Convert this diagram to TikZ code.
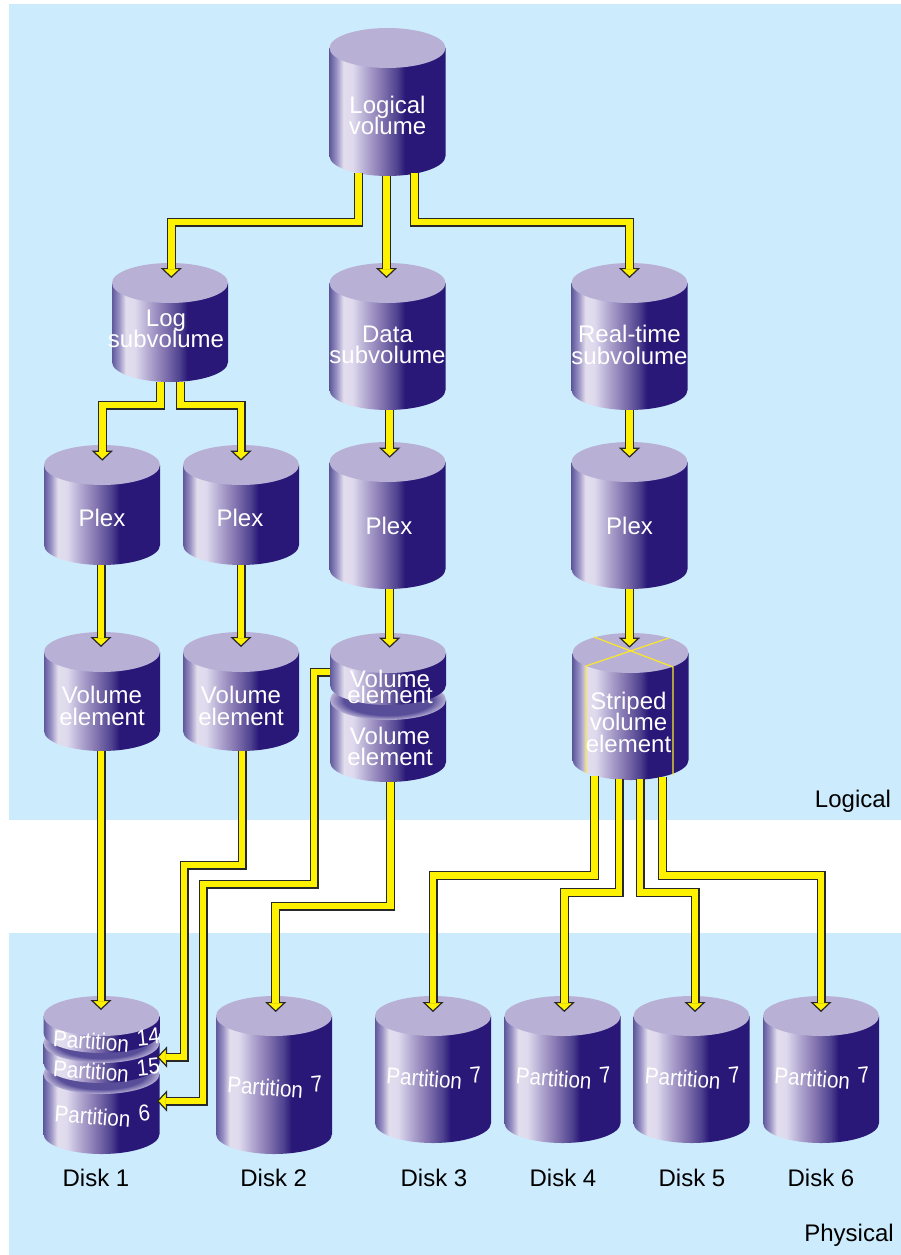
\documentclass[tikz,border=0pt]{standalone}
\usepackage{fontspec}
\setmainfont{Liberation Sans}
\usetikzlibrary{arrows.meta}

\definecolor{panelblue}{RGB}{204,235,253}
\definecolor{capcol}{RGB}{184,176,213}
\definecolor{groovecol}{RGB}{87,77,153}
\definecolor{pipeedge}{RGB}{40,40,40}
\definecolor{pipefill}{RGB}{255,242,0}
\definecolor{stripecol}{RGB}{250,232,40}

\pgfdeclarehorizontalshading{drumgrad}{100bp}{rgb(0bp)=(.37,.35,.61); rgb(25bp)=(.37,.35,.61); rgb(28bp)=(.6,.57,.77);
  rgb(31bp)=(.89,.87,.93); rgb(35bp)=(.87,.85,.93); rgb(41bp)=(.69,.65,.81); rgb(48bp)=(.5,.44,.68);
  rgb(54bp)=(.31,.26,.56); rgb(57.5bp)=(.165,.094,.47); rgb(100bp)=(.165,.094,.47)}
\pgfdeclareradialshading{groovegrad}{\pgfpointorigin}{color(0bp)=(groovecol); color(19bp)=(groovecol); color(25bp)=(capcol); color(50bp)=(capcol)}

% body and cap of a drum: x, top, bottom
\newcommand\drumbody[4][drumcap]{
  \path[drumface] (#2-58,#3+20) -- (#2-58,#4-20) arc (180:0:58 and 20) -- (#2+58,#3+20) -- cycle;
  \path[#1] (#2,#3+20) ellipse (58 and 20);
}
% node over the whole drum: name, x, top, bottom, text dx, text dy, text
\newcommand\drumnode[7]{
  \node[drumbox, minimum height = {#4-#3}] (#1) at (#2,{(#3+#4)/2})
    {\smash{\raisebox{\dimexpr-6.3pt-#6pt\relax}{\makebox[0pt]{\hspace*{\dimexpr2\dimexpr#5pt\relax\relax}\parbox[c]{300pt}{\lineskiplimit=-100pt\centering #7}}}}};
}
\newcommand\drum[7]{
  \drumbody{#2}{#3}{#4}
  \drumnode{#1}{#2}{#3}{#4}{#5}{#6}{#7}
}
\newcommand\slab[2]{{\fontsize{23}{23}\selectfont\rotatebox{-4.5}{\scalebox{.9}[1]{#1}}~\rotatebox{6}{\scalebox{.9}[1]{#2}}}}

\begin{document}
\begin{tikzpicture}[x = 1pt, y = -1pt,
    drumface/.style = { shade, shading = drumgrad },
    drumcap/.style = { fill = capcol },
    grooverim/.style = { shade, shading = groovegrad },
    drumbox/.style = { minimum width = 116, inner sep = 0, outer sep = 0, text = white, font = \fontsize{24}{21.5}\selectfont },
    caption/.style = { inner sep = 0, font = \fontsize{24}{24}\selectfont },
    pipe/.style = { draw = pipeedge, line width = 9pt, -{Triangle[length = 10pt, width = 21pt, line width = 1.2pt, fill = pipefill]},
      postaction = { draw = pipefill, line width = 6.6pt, -, shorten > = 9pt } },
    stripe/.style = { draw = stripecol, line width = 1.2pt }]

    \useasboundingbox (0,0) rectangle (901,1255);
    \fill[panelblue] (9,4) rectangle (901,820);
    \fill[panelblue] (9,933) rectangle (901,1255);

    % logical side
    \drum{logical}{387.5}{28}{176}{0}{13.5}{Logical\\volume}
    \drum{logsub}{170}{263}{382}{-4}{6.5}{Log\\subvolume}
    \drum{datasub}{387.5}{263}{410}{0}{8.5}{Data\\subvolume}
    \drum{realsub}{629.5}{263}{410}{0}{8.5}{Real-time\\subvolume}
    \drum{plexa}{102}{445}{565}{0}{12.7}{Plex}
    \drum{plexb}{241}{445}{565}{-1}{12.7}{Plex}
    \drum{plexc}{387.5}{442}{589}{1.5}{10}{Plex}
    \drum{plexd}{629.5}{442}{589}{0}{10}{Plex}
    \drum{vola}{102}{632}{751}{0}{14.5}{Volume\\element}
    \drum{volb}{241}{632}{751}{0}{14.5}{Volume\\element}

    % split volume element
    \drumbody[grooverim]{388}{680}{782}
    \drumbody{388}{633}{705}
    \drumnode{volc}{388}{633}{705}{2}{18}{Volume\\[-5.5pt]element}
    \drumnode{vold}{388}{680}{782}{2}{15.5}{Volume\\element}

    % striped volume element
    \drumbody{630.5}{633}{780}
    \draw[stripe] (594,637) -- (673,667) -- (673,775);
    \draw[stripe] (669,638) -- (586,666) -- (586,773);
    \drumnode{striped}{630.5}{633}{780}{-2}{15.5}{Striped\\volume\\element}

    % disks
    \drumbody[grooverim]{101.5}{1054}{1154}
    \drumbody[grooverim]{101.5}{1023}{1083}
    \drumbody{101.5}{996}{1053}
    \drumnode{parta}{101.5}{996}{1053}{5}{15.5}{\slab{Partition}{14}}
    \drumnode{partb}{101.5}{1023}{1083}{5}{17}{\slab{Partition}{15}}
    \drumnode{partc}{101.5}{1054}{1154}{1}{12}{\slab{Partition}{6}}
    \drum{diskb}{274}{996}{1154}{1}{12}{\slab{Partition}{7}}
    \foreach \name/\x in {diskc/433, diskd/562.5, diske/691.5, diskf/821}
      \drum{\name}{\x}{996}{1143}{1}{8.5}{\slab{Partition}{7}};

    \foreach \name/\x/\num in {capa/96/1, capb/273.7/2, capc/434/3, capd/563/4, cape/692/5, capf/821/6}
      \node[caption] (\name) at (\x,1178) {Disk \num};
    \node[caption] (logicalcap) at (853,801) {Logical};
    \node[caption] (physicalcap) at (849,1235) {Physical};

    % connectors
    \draw[pipe] ([xshift = -29pt, yshift = 3pt]logical.south) -- ++(0,49) -| ([xshift = 1.3pt, yshift = -15pt]logsub.north);
    \draw[pipe] ([xshift = -1pt]logical.south) -- ([xshift = -1pt, yshift = -15pt]datasub.north);
    \draw[pipe] ([xshift = 27pt, yshift = 3pt]logical.south) -- ++(0,49) -| ([yshift = -15pt]realsub.north);
    \draw[pipe] ([xshift = -9.3pt]logsub.south) -- ++(0,23) -| ([xshift = .3pt, yshift = -15.7pt]plexa.north);
    \draw[pipe] ([xshift = 10.7pt]logsub.south) -- ++(0,23) -| ([yshift = -15.7pt]plexb.north);
    \draw[pipe] ([xshift = 2.2pt]datasub.south) -- ([xshift = 2.2pt, yshift = -15.7pt]plexc.north);
    \draw[pipe] (realsub.south) -- ([yshift = -15.7pt]plexd.north);
    \draw[pipe] ([xshift = -1pt]plexa.south) -- ([xshift = -1pt, yshift = -15pt]vola.north);
    \draw[pipe] (plexb.south) -- ([yshift = -15pt]volb.north);
    \draw[pipe] ([xshift = 2.2pt]plexc.south) -- ([xshift = 1.7pt, yshift = -14.7pt]volc.north);
    \draw[pipe] (plexd.south) -- ([xshift = -1pt, yshift = -14.7pt]striped.north);
    \draw[pipe] ([xshift = -1pt]vola.south) -- ([xshift = -.5pt, yshift = -14pt]parta.north);
    \draw[pipe] ([xshift = 1pt]volb.south) -- ++(0,114) -| ++(-58,192) -- ([xshift = -2.5pt, yshift = -4pt]partb.east);
    \draw[pipe] ([yshift = -3pt]volc.west) -- ++(-16,0) -- ++(0,212) -| ++(-111,217) -- ([xshift = -2.5pt, yshift = 3pt]partc.east);
    \draw[pipe] ([xshift = 2.7pt]vold.south) -- ++(0,124) -| ([xshift = 1.7pt, yshift = -16pt]diskb.north);
    \draw[pipe] ([xshift = -36.2pt, yshift = 4pt]striped.south) -- ++(0,99.7) -| ([yshift = -16pt]diskc.north);
    \draw[pipe] ([xshift = -11.5pt, yshift = 1pt]striped.south) -- ++(0,113.3) -| ([xshift = 1.8pt, yshift = -16pt]diskd.north);
    \draw[pipe] ([xshift = 9.5pt, yshift = 1pt]striped.south) -- ++(0,113.3) -| ([xshift = 3.5pt, yshift = -16pt]diske.north);
    \draw[pipe] ([xshift = 32pt, yshift = 3pt]striped.south) -- ++(0,98.7) -| ([yshift = -16pt]diskf.north);
\end{tikzpicture}
\end{document}
